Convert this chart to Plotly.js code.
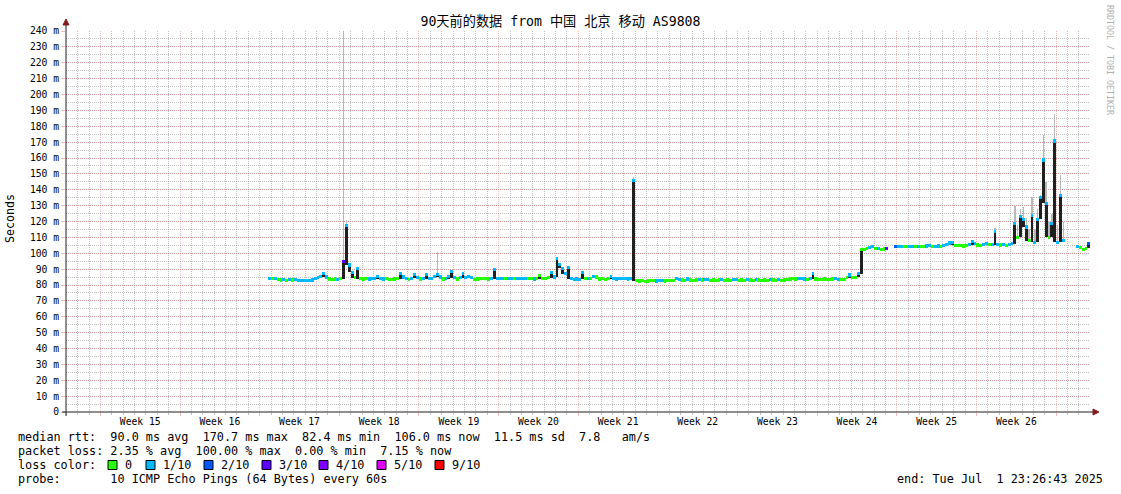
<!DOCTYPE html>
<html>
<head>
<meta charset="utf-8">
<script src="https://cdn.plot.ly/plotly-3.0.1.min.js"></script>
<style>
html,body{margin:0;padding:0;background:#fff;}
#chart{width:1121px;height:494px;}
</style>
</head>
<body>
<div id="chart"></div>
<script>
// ---------------- data ----------------
const chartTitle = '90天前的数据 from 中国 北京 移动 AS9808';
const rangeStart = '2025-04-02 23:26:43';
const rangeEnd   = '2025-07-01 23:26:43';
const seriesStart = '2025-04-20 21:00:00';   // first consolidated sample (6 h steps)
const stepHours = 6;

// median RTT (ms), one value per 6 h step, one row per week
const median = [
 84.2,84.0,84.3,83.5,83.2,83.4,83.0,83.3,83.1,83.4,83.0,82.8,83.0,82.7,82.6,83.2,84.0,84.5,85.5,87.5,85.0,83.8,83.6,83.8,83.7,84.0,95.0,117.5,
 92.6,88.0,84.5,90.5,84.0,83.8,84.0,83.8,83.9,84.0,85.5,84.2,83.8,84.0,83.7,83.6,83.8,84.0,87.5,85.0,84.0,83.7,84.2,86.5,84.5,83.8,84.0,86.5,
 84.0,84.3,85.5,86.5,85.0,83.8,84.0,85.5,88.5,84.5,83.8,84.5,87.0,84.5,85.5,84.5,83.7,83.8,84.0,83.9,84.2,83.8,84.0,90.0,84.0,83.9,84.0,84.2,
 84.0,83.9,84.2,84.0,84.1,83.9,84.0,84.3,84.0,83.8,84.2,86.0,84.0,84.2,84.5,88.0,85.0,96.5,93.0,90.5,87.0,91.0,84.0,83.7,83.8,83.6,88.0,84.0,
 84.0,84.2,85.5,85.0,83.8,84.0,83.7,84.0,85.5,84.0,83.8,84.0,83.9,84.1,83.8,84.0,146.0,82.6,82.5,82.6,82.4,82.5,82.8,82.6,82.5,83.0,82.7,82.5,
 82.6,82.7,82.8,84.0,83.6,83.1,83.0,83.8,83.1,83.0,83.2,83.6,83.1,83.7,83.6,83.0,83.1,83.0,83.2,83.7,83.0,83.1,83.0,83.6,83.5,83.0,83.1,83.0,
 83.5,83.1,83.0,83.6,83.1,83.0,83.1,83.0,83.5,83.2,83.0,83.6,83.0,83.2,83.6,83.8,84.0,83.8,84.0,84.2,83.8,83.6,84.2,87.4,83.8,83.6,83.7,83.8,
 83.6,83.5,83.8,84.0,83.7,83.6,83.5,84.5,86.3,84.8,84.8,87.0,102.5,102.6,102.8,103.4,104.0,102.8,103.0,102.6,102.7,102.8,null,null,104.0,104.2,104.4,104.2,
 104.3,104.1,104.4,104.2,104.5,104.0,104.3,104.6,104.8,104.2,104.5,104.6,104.2,104.8,105.5,106.5,107.0,105.0,104.8,105.0,104.6,105.0,105.5,107.5,106.0,105.2,105.0,105.3,
 106.0,105.5,105.3,113.5,105.5,105.2,105.4,105.0,105.3,106.0,119.0,110.0,123.0,121.5,116.5,108.0,124.0,107.0,121.5,135.0,158.7,131.5,110.0,119.0,170.7,107.0,136.5,108.0,
 null,null,null,null,104.0,103.5,102.5,103.0,106.0
];

// loss class per step (index into lossLabels)
const lossIdx = [
 1,0,1,0,0,1,0,1,0,1,1,1,1,1,1,1,1,1,1,1,1,0,0,0,1,0,3,1,
 1,1,0,1,0,0,0,1,1,1,1,1,1,0,0,0,0,0,1,1,1,0,1,1,1,0,1,1,
 1,1,1,1,1,0,1,1,1,1,0,1,1,1,1,1,0,0,0,0,0,0,1,1,1,1,1,0,
 1,1,0,1,1,1,1,0,0,1,0,0,0,0,0,1,1,1,1,1,1,1,1,1,1,1,1,0,
 1,0,1,0,0,0,0,0,1,1,1,1,1,1,1,1,1,0,0,0,0,0,0,0,1,1,1,0,
 0,0,0,1,1,0,0,1,0,0,0,1,0,1,1,0,0,0,0,1,0,0,0,1,1,0,0,0,
 1,0,0,1,0,0,0,0,1,0,0,1,0,0,0,0,0,0,1,1,1,0,1,1,0,0,0,0,
 0,0,0,1,1,0,0,0,1,0,0,1,0,0,0,1,1,0,1,0,0,3,null,null,2,1,1,0,
 0,1,1,0,1,0,0,1,1,0,1,1,0,1,1,1,1,0,0,0,0,0,1,1,1,0,0,1,
 1,0,1,1,1,0,1,0,1,1,1,0,1,1,1,0,1,1,1,1,1,1,0,1,1,1,1,1,
 null,null,null,null,1,0,0,0,2
];

// sparse smoke maxima (step index -> highest ping, ms)
const smokeIdx = [26, 27, 59, 128, 255, 262, 263, 264, 265, 266, 267, 268, 269, 270, 271, 272, 273, 274, 275, 276, 277, 278, 279];
const smokeMax = [300, 121, 100.8, 148, 116, 130, 118, 128, 129, 122, 115, 135.6, 115, 128, 137, 174.5, 145, 120, 125, 188, 118, 149, 120];

const lossLabels = ['0', '1/10', '2/10', '3/10', '4/10', '5/10', '9/10'];
const lossColors = ['#26ff00', '#00b8ff', '#0059ff', '#5e00ff', '#7e00ff', '#dd00ff', '#ff0000'];

const yTickVals = [0,10,20,30,40,50,60,70,80,90,100,110,120,130,140,150,160,170,180,190,200,210,220,230,240];
const yTickText = ['0','10 m','20 m','30 m','40 m','50 m','60 m','70 m','80 m','90 m','100 m','110 m','120 m','130 m','140 m','150 m','160 m','170 m','180 m','190 m','200 m','210 m','220 m','230 m','240 m'];

const statsRtt  = 'median rtt:  90.0 ms avg  170.7 ms max  82.4 ms min  106.0 ms now  11.5 ms sd  7.8   am/s';
const statsLoss = 'packet loss: 2.35 % avg  100.00 % max  0.00 % min  7.15 % now';
const lossTitle = 'loss color:';
const probeText = 'probe:       10 ICMP Echo Pings (64 Bytes) every 60s';
const endText   = 'end: Tue Jul  1 23:26:43 2025';
const yTitle = 'Seconds';
const sideMark = 'RRDTOOL / TOBI OETIKER';

// ---------------- layout geometry ----------------
const W = 1121, H = 494;
const M = {l: 66, r: 31, t: 31, b: 82};
const PW = W - M.l - M.r, PH = H - M.t - M.b;
const px2x = px => (px - M.l) / PW;
const py2y = py => (H - M.b - py) / PH;
const MONO = 'DejaVu Sans Mono, monospace';
const legendFont = 11.8;
const lossBoxX = [108, 146, 204, 262, 319, 377, 435];
const rowY = [437, 451, 465, 479];

// ---------------- derived series ----------------
const stepMs = stepHours * 3600e3;
const t0 = Date.parse(seriesStart.replace(' ', 'T') + 'Z');
const toStr = ms => new Date(ms).toISOString().replace('T', ' ').slice(0, 19);
const times = median.map((_, i) => toStr(t0 + i * stepMs));

function neighborMin(i) {
  const v = [median[i - 1], median[i], median[i + 1]].filter(a => a != null && a !== undefined);
  return Math.min.apply(null, v);
}
const darkBase = median.map((v, i) => v == null ? null : neighborMin(i));
const darkH = median.map((v, i) => (v == null || v - darkBase[i] < 1.5) ? null : v - darkBase[i]);

const smokeX = smokeIdx.map(i => times[i]);
const smokeBase = smokeIdx.map(i => neighborMin(i));
const smokeH = smokeMax.map((m, k) => m - smokeBase[k]);

const bandBase = median.map(v => v == null ? null : v - 1);
const bandH = median.map(v => v == null ? null : 2);
const bandColor = lossIdx.map(k => k == null ? 'rgba(0,0,0,0)' : lossColors[k]);

// smoke + dark median strokes on the grid axis x; loss-coloured median band on x2 (labels axis, same range, drawn on top)
const traces = [
  {type: 'bar', xaxis: 'x', x: smokeX, y: smokeH, base: smokeBase, width: stepMs * 0.5,
   marker: {color: '#b8b8b8', line: {width: 0}}, hoverinfo: 'skip', showlegend: false},
  {type: 'bar', xaxis: 'x', x: times, y: darkH, base: darkBase, width: stepMs,
   marker: {color: '#202020', line: {width: 0}}, hoverinfo: 'skip', showlegend: false},
  {type: 'bar', xaxis: 'x2', x: times, y: bandH, base: bandBase, width: stepMs,
   marker: {color: bandColor, line: {width: 0}}, hoverinfo: 'skip', showlegend: false}
];

const GRID = 'rgba(140,140,140,0.55)';
const MGRID = 'rgba(225,90,90,0.42)';
const DASH = '1px,1px';
const WEEK = 7 * 864e5;
const nb = s => s.replace(/ /g, '\u00a0');

const annotations = [
  {text: nb(statsRtt), x: px2x(16), y: py2y(rowY[0])},
  {text: nb(statsLoss), x: px2x(16), y: py2y(rowY[1])},
  {text: nb(lossTitle), x: px2x(16), y: py2y(rowY[2])},
  {text: nb(probeText), x: px2x(16), y: py2y(rowY[3])}
].map(a => Object.assign(a, {xref: 'paper', yref: 'paper', xanchor: 'left', yanchor: 'middle',
   showarrow: false, font: {family: MONO, size: legendFont, color: '#000'}}));

lossLabels.forEach((lab, k) => {
  annotations.push({text: lab, x: px2x(lossBoxX[k] + 15), y: py2y(rowY[2]), xref: 'paper', yref: 'paper',
    xanchor: 'left', yanchor: 'middle', showarrow: false, font: {family: MONO, size: legendFont, color: '#000'}});
});
annotations.push({text: nb(endText), x: px2x(1105), y: py2y(rowY[3]), xref: 'paper', yref: 'paper',
  xanchor: 'right', yanchor: 'middle', showarrow: false, font: {family: MONO, size: legendFont, color: '#000'}});
annotations.push({text: yTitle, x: px2x(10), y: py2y(219), xref: 'paper', yref: 'paper', textangle: -90,
  xanchor: 'center', yanchor: 'middle', showarrow: false, font: {family: MONO, size: 11.6, color: '#000'}});
annotations.push({text: nb(sideMark), x: px2x(1110), y: py2y(60), xref: 'paper', yref: 'paper', textangle: 90,
  xanchor: 'center', yanchor: 'middle', showarrow: false, font: {family: MONO, size: 8.3, color: '#b0b0b0'}});

const shapes = [
  // axes
  {type: 'line', xref: 'paper', yref: 'paper', x0: 0, x1: 0, y0: py2y(416), y1: py2y(24), line: {color: '#1f1f1f', width: 1}},
  {type: 'line', xref: 'paper', yref: 'paper', x0: px2x(62), x1: px2x(1094), y0: 0, y1: 0, line: {color: '#1f1f1f', width: 1}},
  // arrows
  {type: 'path', xref: 'paper', yref: 'paper', fillcolor: '#801f1f', line: {color: '#801f1f', width: 1},
   path: `M ${px2x(63)},${py2y(25)} L ${px2x(69)},${py2y(25)} L ${px2x(66)},${py2y(19)} Z`},
  {type: 'path', xref: 'paper', yref: 'paper', fillcolor: '#801f1f', line: {color: '#801f1f', width: 1},
   path: `M ${px2x(1093)},${py2y(409)} L ${px2x(1093)},${py2y(415)} L ${px2x(1099)},${py2y(412)} Z`}
];
lossBoxX.forEach((bx, k) => {
  shapes.push({type: 'rect', xref: 'paper', yref: 'paper', x0: px2x(bx), x1: px2x(bx + 9),
    y0: py2y(rowY[2] + 4.5), y1: py2y(rowY[2] - 4.5), fillcolor: lossColors[k], line: {color: '#000', width: 1}});
});

const layout = {
  width: W, height: H,
  margin: M,
  paper_bgcolor: '#fff', plot_bgcolor: '#fff',
  barmode: 'overlay', bargap: 0, bargroupgap: 0,
  showlegend: false,
  title: {text: chartTitle, x: 0.5, xref: 'container', xanchor: 'center',
          y: 1 - 21 / H, yref: 'container', yanchor: 'middle',
          font: {family: 'DejaVu Sans Mono, Noto Sans CJK SC', size: 13.2, color: '#000'}},
  // grid axis: week lines on Sundays, daily minor lines
  xaxis: {type: 'date', range: [rangeStart, rangeEnd], tickmode: 'linear',
          tick0: '2025-04-06 00:00:00', dtick: WEEK, showticklabels: false, showgrid: true,
          gridcolor: MGRID, griddash: DASH, gridwidth: 1, zeroline: false, showline: false,
          ticks: 'outside', ticklen: 3, tickcolor: MGRID, tickwidth: 1,
          minor: {tickmode: 'linear', tick0: '2025-04-06 00:00:00', dtick: 864e5, showgrid: true, gridcolor: GRID,
                  griddash: DASH, gridwidth: 1, ticks: 'outside', ticklen: 2, tickcolor: GRID},
          fixedrange: true},
  // label axis: "Week NN" centred mid-week
  xaxis2: {type: 'date', overlaying: 'x', side: 'bottom', range: [rangeStart, rangeEnd], tickmode: 'linear',
          tick0: '2025-04-09 12:00:00', dtick: WEEK, tickformat: 'Week %V', showgrid: false, zeroline: false,
          showline: false, ticks: '', ticklabelstandoff: 2,
          tickfont: {family: MONO, size: 9.7, color: '#000'}, fixedrange: true},
  yaxis: {range: [0, 240], tickmode: 'array', tickvals: yTickVals, ticktext: yTickText,
          showgrid: true, gridcolor: MGRID, griddash: DASH, gridwidth: 1, zeroline: false, showline: false,
          ticks: 'outside', ticklen: 4, tickcolor: MGRID, tickwidth: 1,
          minor: {tickmode: 'linear', tick0: 0, dtick: 5, showgrid: true, gridcolor: GRID, griddash: DASH, gridwidth: 1},
          tickfont: {family: MONO, size: 9.7, color: '#000'}, fixedrange: true},
  annotations: annotations,
  shapes: shapes
};

Plotly.newPlot('chart', traces, layout, {staticPlot: true, displayModeBar: false});
</script>
</body>
</html>
